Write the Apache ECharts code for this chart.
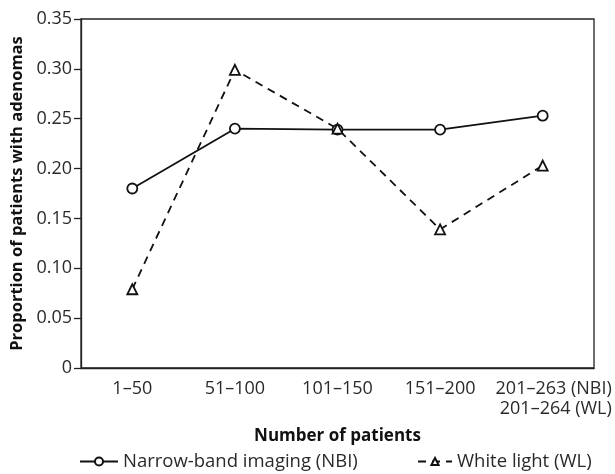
<!DOCTYPE html>
<html><head><meta charset="utf-8">
<script src="https://cdn.jsdelivr.net/npm/echarts@6/dist/echarts.min.js"></script>
<style>html,body{margin:0;padding:0;background:#fff}#c{width:615px;height:474px}</style>
</head><body><div id="c"></div>
<script>
var categories = ['1–50', '51–100', '101–150', '151–200', '201–263 (NBI)\n201–264 (WL)'];
var nbiValues = [0.180, 0.240, 0.239, 0.239, 0.253];
var wlValues = [0.079, 0.299, 0.240, 0.139, 0.203];
var yMin = 0, yMax = 0.35, yStep = 0.05;
var seriesNames = ['Narrow-band imaging (NBI)', 'White light (WL)'];

var FONT = 'Open Sans';
var chart = echarts.init(document.getElementById('c'), null, {renderer: 'canvas'});
chart.setOption({
  animation: false,
  textStyle: {fontFamily: FONT},
  grid: {left: 81, right: 21, top: 19, bottom: 106, show: true, borderColor: '#222', borderWidth: 1.3, containLabel: false},
  xAxis: {
    type: 'category', data: categories, boundaryGap: true,
    axisLine: {lineStyle: {color: '#222', width: 1.3}},
    axisTick: {show: false},
    axisLabel: {interval: 0, color: '#2a2a2a', fontSize: 18, fontFamily: FONT, margin: 11, lineHeight: 20,
      formatter: function (v) {
        var parts = v.split('\n');
        if (parts.length > 1) return parts.map(function (p) { return '{r|' + p + '}'; }).join('\n');
        return v;
      },
      rich: {r: {align: 'right', fontSize: 18, fontFamily: FONT, color: '#2a2a2a', lineHeight: 20, padding: [0, 0, 0, 22]}}
    },
    name: 'Number of patients', nameLocation: 'middle', nameGap: 60,
    nameTextStyle: {fontSize: 17, fontWeight: 'bold', color: '#111', fontFamily: FONT}
  },
  yAxis: {
    type: 'value', min: yMin, max: yMax, interval: yStep,
    axisLine: {show: true, lineStyle: {color: '#222', width: 1.3}},
    axisTick: {show: true, length: 7, lineStyle: {color: '#222', width: 1.3}},
    splitLine: {show: false},
    axisLabel: {color: '#2a2a2a', fontSize: 18, fontFamily: FONT, margin: 9,
      formatter: function (v) { return v === 0 ? '0' : v.toFixed(2); }},
    name: 'Proportion of patients with adenomas', nameLocation: 'middle', nameGap: 53,
    nameTextStyle: {fontSize: 16.5, fontWeight: 'bold', color: '#111', fontFamily: FONT}
  },
  legend: [
    {data: [seriesNames[0]], left: 74, top: 447, itemWidth: 38, itemHeight: 10, itemGap: 5,
      textStyle: {fontSize: 18.5, color: '#2a2a2a', fontFamily: FONT}},
    {data: [seriesNames[1]], left: 412, top: 447, itemWidth: 34, itemHeight: 9, itemGap: 8,
      textStyle: {fontSize: 18.5, color: '#2a2a2a', fontFamily: FONT}}
  ],
  series: [
    {name: seriesNames[0], type: 'line', data: nbiValues, symbol: 'circle', symbolSize: 10,
      lineStyle: {color: '#111', width: 1.8, type: 'solid'},
      itemStyle: {color: '#fff', borderColor: '#111', borderWidth: 1.8}},
    {name: seriesNames[1], type: 'line', data: wlValues, symbol: 'triangle', symbolSize: 10,
      lineStyle: {color: '#111', width: 1.8, type: [8, 6]},
      itemStyle: {color: '#fff', borderColor: '#111', borderWidth: 1.8}}
  ]
});
</script></body></html>
